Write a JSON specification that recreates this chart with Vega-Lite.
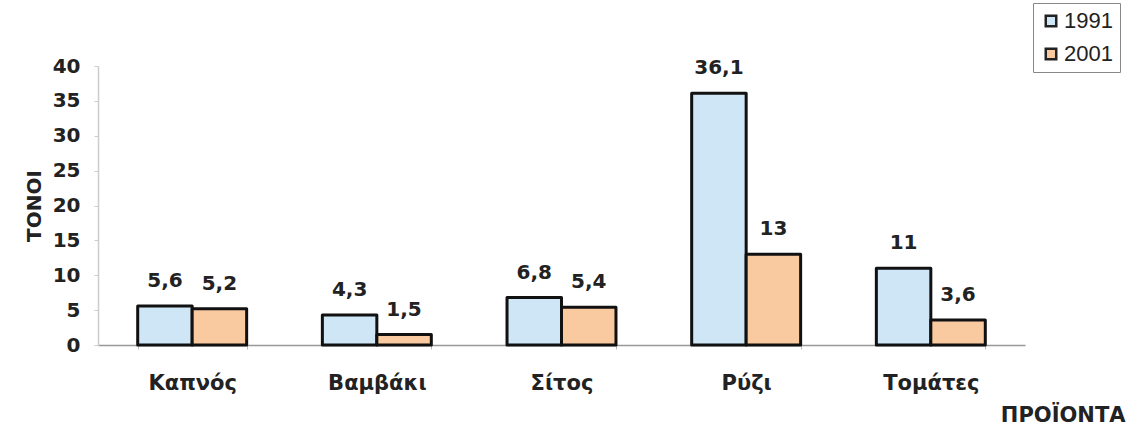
{
  "$schema": "https://vega.github.io/schema/vega-lite/v6.json",
  "autosize": {"type": "none"},
  "padding": {"left": 98, "top": 66, "right": 120, "bottom": 82},
  "width": 927,
  "height": 279,
  "background": "white",
  "data": {
    "values": [
      {"product": "Καπνός", "year": "1991", "tons": 5.6},
      {"product": "Καπνός", "year": "2001", "tons": 5.2},
      {"product": "Βαμβάκι", "year": "1991", "tons": 4.3},
      {"product": "Βαμβάκι", "year": "2001", "tons": 1.5},
      {"product": "Σίτος", "year": "1991", "tons": 6.8},
      {"product": "Σίτος", "year": "2001", "tons": 5.4},
      {"product": "Ρύζι", "year": "1991", "tons": 36.1},
      {"product": "Ρύζι", "year": "2001", "tons": 13},
      {"product": "Τομάτες", "year": "1991", "tons": 11},
      {"product": "Τομάτες", "year": "2001", "tons": 3.6}
    ]
  },
  "encoding": {
    "x": {
      "field": "product", "type": "nominal", "sort": null,
      "scale": {"paddingInner": 0.41, "paddingOuter": 0.215},
      "axis": {
        "title": "ΠΡΟΪΟΝΤΑ", "labelAngle": 0, "labelFont": "DejaVu Sans", "labelFontWeight": "bold",
        "labelFontSize": 21, "labelColor": "#222", "labelPadding": 23,
        "domainColor": "#999", "domainWidth": 1.5, "tickColor": "#bbb", "tickBand": "extent", "tickSize": 4,
        "titleFont": "DejaVu Sans", "titleFontWeight": "bold", "titleFontSize": 21, "titleColor": "#222",
        "titleAnchor": "end", "titleAlign": "right", "titleX": 1027, "titleY": 70, "titleBaseline": "middle"
      }
    },
    "xOffset": {"field": "year", "type": "nominal", "scale": {"paddingInner": 0, "paddingOuter": 0}},
    "y": {
      "field": "tons", "type": "quantitative",
      "scale": {"domain": [0, 40], "nice": false},
      "axis": {
        "title": "ΤΟΝΟΙ", "values": [0, 5, 10, 15, 20, 25, 30, 35, 40], "grid": false,
        "labelFont": "DejaVu Sans", "labelFontWeight": "bold", "labelFontSize": 20, "labelColor": "#222",
        "labelPadding": 14, "tickSize": 4, "tickColor": "#ccc", "domainColor": "#ccc", "domainWidth": 1.5,
        "titleFont": "DejaVu Sans", "titleFontWeight": "bold", "titleFontSize": 20, "titleColor": "#222",
        "titlePadding": 8
      }
    }
  },
  "layer": [
    {
      "mark": {"type": "bar", "stroke": "#111", "strokeWidth": 3, "strokeJoin": "round"},
      "encoding": {
        "color": {
          "field": "year", "type": "nominal",
          "scale": {"domain": ["1991", "2001"], "range": ["#cfe6f7", "#f9c9a0"]},
          "legend": {
            "title": null, "orient": "none", "legendX": 935, "legendY": -63,
            "symbolType": "square", "symbolSize": 110, "symbolStrokeColor": "#222", "symbolStrokeWidth": 2.5,
            "labelFont": "Liberation Sans", "labelFontSize": 22, "labelColor": "#222", "labelOffset": 2,
            "rowPadding": 11, "strokeColor": "#888", "padding": 7
          }
        }
      }
    },
    {
      "mark": {"type": "text", "baseline": "bottom", "dy": -15, "font": "DejaVu Sans", "fontWeight": "bold", "fontSize": 20, "color": "#222"},
      "encoding": {
        "text": {"field": "tons", "type": "quantitative", "format": ".1~f"}
      }
    }
  ],
  "config": {
    "view": {"stroke": null},
    "locale": {"number": {"decimal": ",", "thousands": ".", "grouping": [3], "currency": ["", " €"]}}
  }
}
